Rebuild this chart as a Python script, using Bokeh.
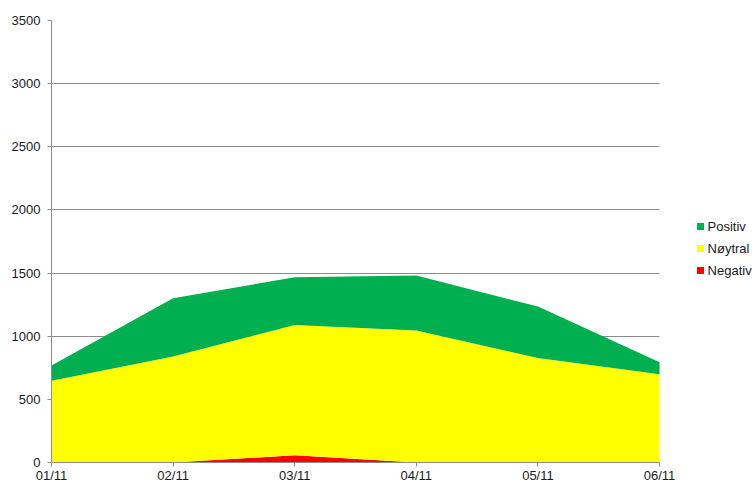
from bokeh.plotting import figure
from bokeh.models import Range1d, FixedTicker, ColumnDataSource
from bokeh.core.properties import value
from bokeh.embed import file_html
from bokeh.resources import INLINE

dates = ["01/11", "02/11", "03/11", "04/11", "05/11", "06/11"]
negativ = [0, 0, 58, 0, 0, 0]
noytral = [648, 840, 1030, 1045, 827, 698]
positiv = [121, 461, 379, 435, 408, 95]
series_names = ["Positiv", "Nøytral", "Negativ"]
y_ticks = [0, 500, 1000, 1500, 2000, 2500, 3000, 3500]

colors = {"Positiv": "#00B050", "Nøytral": "#FFFF00", "Negativ": "#FF0000"}

xs = list(range(len(dates)))
b1 = [n for n in negativ]
b2 = [a + b for a, b in zip(b1, noytral)]
b3 = [a + b for a, b in zip(b2, positiv)]
src = ColumnDataSource(dict(x=xs, z=[0] * len(xs), b1=b1, b2=b2, b3=b3))

FONT = "Liberation Sans"
GRID = "#8c8c8c"

p = figure(width=755, height=485, output_backend="svg", toolbar_location=None,
           x_range=Range1d(0, 5.789), y_range=Range1d(0, 3500),
           min_border_left=51, min_border_right=0, min_border_top=20, min_border_bottom=23)
p.outline_line_color = None
p.background_fill_color = "white"
p.border_fill_color = "white"

p.varea(x="x", y1="z", y2="b1", source=src, fill_color=colors["Negativ"])
p.varea(x="x", y1="b1", y2="b2", source=src, fill_color=colors["Nøytral"])
p.varea(x="x", y1="b2", y2="b3", source=src, fill_color=colors["Positiv"])

# axes
p.xaxis.ticker = FixedTicker(ticks=xs)
p.xaxis.major_label_overrides = {i: d for i, d in enumerate(dates)}
p.xaxis.bounds = (0, len(dates) - 1)
p.yaxis.ticker = FixedTicker(ticks=y_ticks)
for ax in (p.xaxis, p.yaxis):
    ax.axis_line_color = GRID
    ax.major_tick_line_color = GRID
    ax.minor_tick_line_color = None
    ax.major_tick_in = 0
    ax.major_tick_out = 4
    ax.major_label_text_font = FONT
    ax.major_label_text_font_size = "13px"
    ax.major_label_text_color = "#1a1a1a"
p.xaxis.major_label_standoff = 1
p.yaxis.major_label_standoff = 7

p.xgrid.grid_line_color = None
p.ygrid.ticker = FixedTicker(ticks=y_ticks)
p.ygrid.grid_line_color = GRID
p.ygrid.cross_bounds = (0, len(dates) - 1)

# legend (manual, to the right of the plotted area)
leg_x = 5.337
leg_tx = 5.395
leg_y = [1869, 1695, 1520]
p.scatter(x=[leg_x] * 3, y=leg_y, marker="square", size=7,
          fill_color=[colors[n] for n in series_names], line_color=None)
p.text(x=[leg_tx] * 3, y=leg_y, text=series_names, text_font=value(FONT),
       text_font_size="13px", text_baseline="middle", text_align="left", text_color="#1a1a1a")

open("out.html", "w").write(file_html(p, INLINE))
